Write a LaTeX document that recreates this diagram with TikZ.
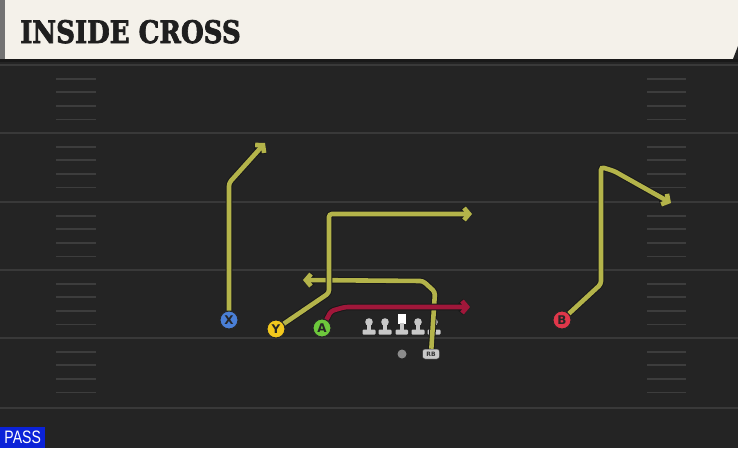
\documentclass[tikz,border=0pt]{standalone}
\usepackage{fontspec}
\usepackage{graphicx}
\usepackage{tikz}
\usetikzlibrary{arrows.meta}
\newfontfamily\titlefont[FakeBold=2.5]{DejaVu Serif Bold}
\newfontfamily\labelfont{DejaVu Sans}
\newfontfamily\tagfont{Liberation Sans}
\definecolor{field}{HTML}{242424}
\definecolor{yardline}{HTML}{393939}
\definecolor{hashline}{HTML}{3d3d3d}
\definecolor{header}{HTML}{F4F1EA}
\definecolor{routeyellow}{HTML}{B4B44A}
\definecolor{routered}{HTML}{A0173A}
\definecolor{xblue}{HTML}{4A7FD6}
\definecolor{yyellow}{HTML}{F2C81D}
\definecolor{agreen}{HTML}{6DC83C}
\definecolor{bred}{HTML}{E0374A}
\definecolor{lineman}{HTML}{C8C8C8}
\definecolor{passblue}{HTML}{0B22D8}

\begin{document}
\begin{tikzpicture}
    [x=1pt, y=-1pt,
     player/.style={draw=black!85, line width=1pt, circle, minimum size=18pt, inner sep=0pt,
       font=\labelfont\bfseries\fontsize{12}{12}\selectfont, text=black!85},
     route/.style={draw=#1, line width=4.6pt, rounded corners=3pt,
       -{Straight Barb[length=5pt, width=12pt]},
       preaction={draw=black!90, line width=6.6pt}},
     route/.default=routeyellow,
     hash/.style={draw=hashline, line width=1.8pt}]
    \useasboundingbox (0,0) rectangle (738,448);

    \fill [field] (0,0) rectangle (738,448);
    \fill [header] (0,0) rectangle (738,59);
    \fill [black!55] (0,0) rectangle (5,59);
    \fill [field] (733,59) -- (738,46) -- (738,59) -- cycle;
    \fill [black!90] (0,59) rectangle (738,62);
    \node (title) [anchor=base west, inner sep=0pt, text=black!88] at (20,43)
      {\scalebox{0.84}[1]{\titlefont\fontsize{31}{31}\selectfont INSIDE CROSS}};

    \foreach \yl in {65,133,202,270,338,408}
      \draw [yardline, line width=2pt] (0,\yl) -- (738,\yl);
    \foreach \yl in {65,133,202,270,338}
      \foreach \k in {1,...,4} {
        \draw [hash] (56,\yl+\k*13.6) -- (96,\yl+\k*13.6);
        \draw [hash] (647,\yl+\k*13.6) -- (686,\yl+\k*13.6);
      }

    \foreach \lx in {369,385,418,434} {
      \fill [lineman] (\lx,322) circle [radius=3.8pt];
      \fill [lineman] (\lx-1.8,322) rectangle (\lx+1.8,331);
      \fill [lineman, rounded corners=1pt] (\lx-6.5,329.5) rectangle (\lx+6.5,334.5);
    }
    \fill [white] (397.5,314) rectangle (406,323.5);
    \fill [lineman] (400,323) rectangle (403.5,331);
    \fill [lineman, rounded corners=1pt] (395.5,329.5) rectangle (408,334.5);

    \node (qb) [circle, fill=black!45, minimum size=9pt, inner sep=0pt] at (402,354) {};
    \node (rb) [draw=black!80, line width=0.5pt, fill=lineman, rounded corners=2.5pt,
      minimum width=17pt, minimum height=10pt, inner sep=0pt,
      font=\labelfont\bfseries\fontsize{6}{6}\selectfont, text=black!80] at (431,354) {RB};

    \node (X) [player, fill=xblue] at (229,320) {X};
    \node (Y) [player, fill=yyellow] at (276,329) {Y};
    \node (A) [player, fill=agreen] at (322,328) {A};
    \node (B) [player, fill=bred] at (562,320) {B};

    \coordinate (xend) at (265,143);
    \coordinate (yend) at (472,214);
    \coordinate (aend) at (470,307);
    \coordinate (rbend) at (303,280);
    \coordinate (bend) at (671,203);

    \draw [route] (X) -- (229,183) -- (xend);
    \draw [route] (rb) -- (435,292) -- (423,281) -- (rbend);
    \draw [route] (Y) -- (329,293) -- (329,214) -- (yend);
    \draw [route=routered] (A) -- (331,311) -- (345,307) -- (aend);
    \draw [route] (B) -- (601,284) -- (601,167) -- (614,171) -- (bend);

    \node (pass) [fill=passblue, anchor=south west, minimum width=45pt, minimum height=21pt,
      inner sep=0pt, text=white, font=\tagfont\fontsize{18}{18}\selectfont] at (0,448)
      {\scalebox{0.78}[1]{PASS}};
\end{tikzpicture}
\end{document}
